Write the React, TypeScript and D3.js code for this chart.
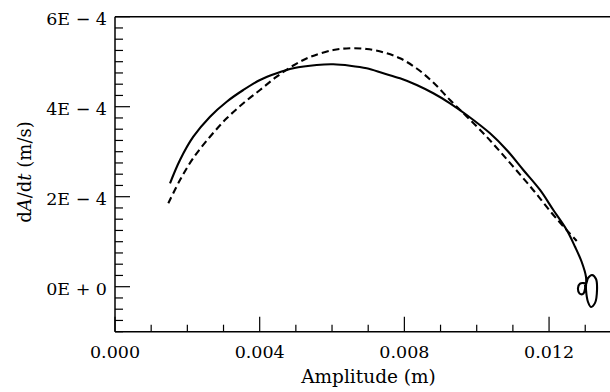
import React from "react";
import * as d3 from "d3";

const solidX = [0.001521, 0.001797, 0.002165, 0.002627, 0.003088, 0.003547, 0.004009, 0.004471, 0.00493, 0.005576, 0.006035, 0.006497, 0.006959, 0.007418, 0.007879, 0.008341, 0.0088, 0.009262, 0.009724, 0.010368, 0.010829, 0.011288, 0.01175, 0.012118, 0.012488, 0.012718, 0.012903, 0.013022, 0.013022, 0.013077, 0.01316, 0.013271, 0.013326, 0.013298, 0.013188, 0.013077, 0.013022, 0.012967, 0.012856, 0.0128, 0.012842, 0.012939, 0.012994, 0.012994];
const solidY = [2.298e-4, 2.816e-4, 3.333e-4, 3.778e-4, 4.111e-4, 4.371e-4, 4.593e-4, 4.742e-4, 4.853e-4, 4.927e-4, 4.942e-4, 4.911e-4, 4.853e-4, 4.742e-4, 4.631e-4, 4.482e-4, 4.298e-4, 4.076e-4, 3.816e-4, 3.409e-4, 3.038e-4, 2.593e-4, 2.149e-4, 1.704e-4, 1.26e-4, 0.889e-4, 0.549e-4, 0.216e-4, -0.073e-4, -0.34e-4, -0.45e-4, -0.36e-4, -0.073e-4, 0.17e-4, 0.26e-4, 0.19e-4, 0.06e-4, 0.08e-4, 0.07e-4, -0.03e-4, -0.15e-4, -0.16e-4, -0.05e-4, 0.04e-4];

const dashedX = [0.001474, 0.001797, 0.002165, 0.002627, 0.003088, 0.003547, 0.004009, 0.004471, 0.00493, 0.005391, 0.006035, 0.006497, 0.006959, 0.007418, 0.007879, 0.008341, 0.0088, 0.009262, 0.009724, 0.010229, 0.010644, 0.011114, 0.011584, 0.012027, 0.012386, 0.012765];
const dashedY = [1.853e-4, 2.371e-4, 2.86e-4, 3.333e-4, 3.742e-4, 4.076e-4, 4.371e-4, 4.667e-4, 4.916e-4, 5.104e-4, 5.26e-4, 5.298e-4, 5.282e-4, 5.209e-4, 5.076e-4, 4.849e-4, 4.538e-4, 4.149e-4, 3.782e-4, 3.371e-4, 3.004e-4, 2.571e-4, 2.127e-4, 1.682e-4, 1.349e-4, 1.016e-4];

const xMajorTicks = [0, 0.004, 0.008, 0.012];
const xTickLabels = ["0.000", "0.004", "0.008", "0.012"];
const yMajorTicks = [0, 2e-4, 4e-4, 6e-4];
const yTickLabels = ["0E + 0", "2E \u2212 4", "4E \u2212 4", "6E \u2212 4"];

const W = 610;
const H = 392;
const FONT = "DejaVu Serif";

export default function App() {
  const x = d3.scaleLinear().domain([0, 0.014]).range([115, 621.4]);
  const y = d3.scaleLinear().domain([-1e-4, 6e-4]).range([331.7, 16.7]);

  const line = d3
    .line<[number, number]>()
    .x((d) => x(d[0]))
    .y((d) => y(d[1]))
    .curve(d3.curveCatmullRom.alpha(0.5));

  const solid = solidX.map((v, i) => [v, solidY[i]] as [number, number]);
  const dashed = dashedX.map((v, i) => [v, dashedY[i]] as [number, number]);

  const xMinor = d3.range(0, 14).map((i) => i * 0.001);
  const yMinor = d3.range(0, 29).map((i) => -1e-4 + i * 0.25e-4);

  const x0 = x(0);
  const yb = y(-1e-4);
  const yt = y(6e-4);

  return (
    <svg
      width={W}
      height={H}
      style={{ position: "absolute", left: 0, top: 0, background: "#fff" }}
      fontFamily={FONT}
    >
      <rect x={0} y={0} width={W} height={H} fill="#fff" />
      {/* frame */}
      <line x1={x0} x2={x(0.014)} y1={yt} y2={yt} stroke="#000" strokeWidth={1.5} />
      <line x1={x0} x2={x(0.014)} y1={yb} y2={yb} stroke="#000" strokeWidth={1.5} />
      <line x1={x0} x2={x0} y1={yt} y2={yb} stroke="#000" strokeWidth={1.5} />

      {/* x ticks */}
      {xMinor.map((t, i) => {
        const major = xMajorTicks.some((m) => Math.abs(m - t) < 1e-9);
        return (
          <line key={"xm" + i} x1={x(t)} x2={x(t)} y1={yb} y2={yb - (major ? 15 : 7)} stroke="#000" strokeWidth={1.2} />
        );
      })}
      {xMajorTicks.map((t, i) => (
        <text key={"xl" + i} x={x(t)} y={358} textAnchor="middle" fontSize={17.5} fill="#000">
          {xTickLabels[i]}
        </text>
      ))}

      {/* y ticks */}
      {yMinor.map((t, i) => {
        const major = yMajorTicks.some((m) => Math.abs(m - t) < 1e-12);
        return (
          <line key={"ym" + i} x1={x0} x2={x0 + (major ? 15 : 8)} y1={y(t)} y2={y(t)} stroke="#000" strokeWidth={1.2} />
        );
      })}
      {yMajorTicks.map((t, i) => (
        <text key={"yl" + i} x={107} y={y(t) + 8} textAnchor="end" fontSize={17.5} fill="#000">
          {yTickLabels[i]}
        </text>
      ))}

      {/* axis titles */}
      <text x={368.5} y={383} textAnchor="middle" fontSize={18.5} fill="#000">
        Amplitude (m)
      </text>
      <text transform="translate(31,172) rotate(-90)" textAnchor="middle" fontSize={18} fill="#000">
        d<tspan fontStyle="italic">A</tspan>/d<tspan fontStyle="italic">t</tspan> (m/s)
      </text>

      {/* curves */}
      <path d={line(solid) || ""} fill="none" stroke="#000" strokeWidth={2.1} />
      <path d={line(dashed) || ""} fill="none" stroke="#000" strokeWidth={2.1} strokeDasharray="7,4" />
    </svg>
  );
}
